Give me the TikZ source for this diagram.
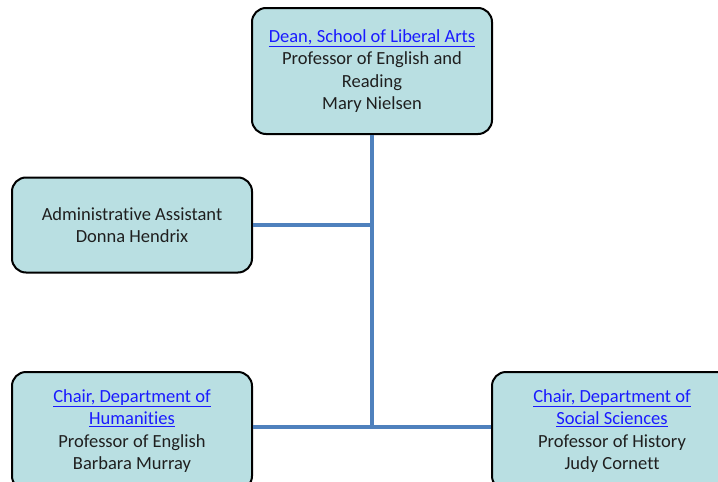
\documentclass[tikz,border=0pt]{standalone}
\usepackage{fontspec}
\setmainfont{Carlito}[Ligatures=NoCommon]
\usepackage{xcolor}
\definecolor{boxfill}{HTML}{B9DFE2}
\definecolor{linkblue}{HTML}{1A1AFF}
\definecolor{trunk}{HTML}{4F81BD}
\usepackage{tikz}
\usetikzlibrary{positioning}
\newcommand\orglink[1]{\textcolor{linkblue}{\underline{#1}}}

\begin{document}
\begin{tikzpicture}[x=1pt, y=-1pt, font=\fontsize{18.5}{22.5}\selectfont,
  orgbox/.style={draw, line width=2pt, rounded corners=14pt, fill=boxfill,
    text=black!88, align=center, inner sep=0pt, minimum width=240pt},
  wire/.style={draw=trunk, line width=3.4pt}]
  \path[use as bounding box, clip] (0,0) rectangle (718,482);
  % reporting lines
  \coordinate (adminjoin) at (372,225);
  \coordinate (deptjoin)  at (372,427);
  % boxes
  \node[orgbox, minimum height=126pt] (dean) at (372,71)
    {\orglink{Dean, School of Liberal Arts}\\Professor of English and\\Reading\\Mary Nielsen};
  \node[orgbox, minimum height=95pt] (admin) at (132,225)
    {Administrative Assistant\\Donna Hendrix};
  \node[orgbox, minimum height=118pt] (human) at (132,431)
    {\orglink{Chair, Department of}\\\orglink{Humanities}\\Professor of English\\Barbara Murray};
  \node[orgbox, minimum height=118pt] (social) at (612,431)
    {\orglink{Chair, Department of}\\\orglink{Social Sciences}\\Professor of History\\Judy Cornett};
  \draw[wire] (dean.south) -- (deptjoin);
  \draw[wire] (admin.east) -- (adminjoin);
  \draw[wire] (human.east |- deptjoin) -- (social.west |- deptjoin);
\end{tikzpicture}
\end{document}
